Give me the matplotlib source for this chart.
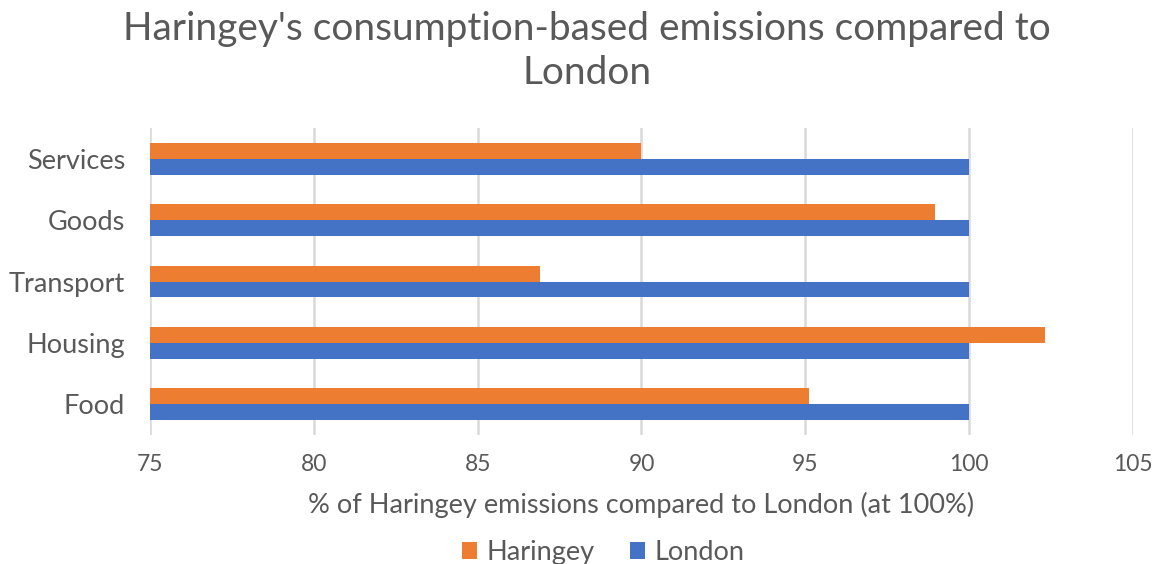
import matplotlib
matplotlib.use("Agg")
import matplotlib.pyplot as plt
import numpy as np

categories = ["Food", "Housing", "Transport", "Goods", "Services"]
haringey = [95.1, 102.3, 86.9, 98.95, 90.0]
london = [100, 100, 100, 100, 100]
x_ticks = [75, 80, 85, 90, 95, 100, 105]

plt.rcParams["font.family"] = ["Lato", "DejaVu Sans"]
text_color = "#595959"

fig = plt.figure(figsize=(11.6, 5.64), dpi=100)
ax = fig.add_axes([0.1293, 0.2287, 0.8474, 0.5443])

y = np.arange(len(categories))
h = 0.26
ax.barh(y + h / 2, np.array(haringey) - 75, left=75, height=h,
        color="#ED7D31", label="Haringey", zorder=3)
ax.barh(y - h / 2, np.array(london) - 75, left=75, height=h,
        color="#4472C4", label="London", zorder=3)

ax.set_xlim(75, 105)
ax.set_ylim(-0.5, 4.5)
ax.set_xticks(x_ticks)
ax.set_yticks(y)
ax.set_yticklabels(categories)
ax.grid(axis="x", color="#D9D9D9", linewidth=1.8, zorder=0)
for s in ax.spines.values():
    s.set_visible(False)
ax.tick_params(length=0, colors=text_color)
ax.tick_params(axis="y", labelsize=19.5, pad=18)
ax.tick_params(axis="x", labelsize=16.5, pad=14)

ax.set_xlabel("% of Haringey emissions compared to London (at 100%)",
              fontsize=19.5, color=text_color, labelpad=12)

fig.suptitle("Haringey's consumption-based emissions compared to\nLondon",
             x=0.506, y=0.98, fontsize=28, color=text_color,
             linespacing=1.25)

leg = fig.legend(loc="center", bbox_to_anchor=(0.52, 0.02), ncol=2,
                 frameon=False, fontsize=19.5, handlelength=0.55, handleheight=0.55,
                 handletextpad=0.35, columnspacing=1.3)
for t in leg.get_texts():
    t.set_color(text_color)

fig.savefig("out.png", dpi=100)
